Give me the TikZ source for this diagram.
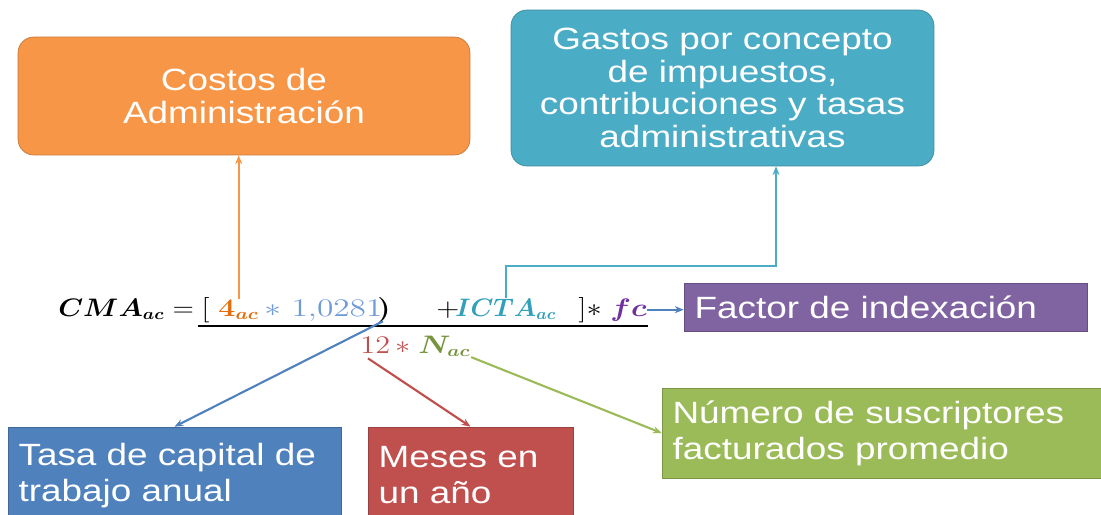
\documentclass[tikz,border=0pt]{standalone}
\usepackage{fontspec}
\usepackage{amsmath,bm}
\setmainfont[FakeStretch=1.2]{Liberation Sans}
\usetikzlibrary{arrows.meta,positioning,calc}

\definecolor{costo}{HTML}{F79646}
\definecolor{gasto}{HTML}{4BACC6}
\definecolor{factorc}{HTML}{8064A2}
\definecolor{numc}{HTML}{9BBB59}
\definecolor{tasac}{HTML}{4F81BD}
\definecolor{mesc}{HTML}{C0504D}
\definecolor{aorange}{HTML}{E46C0A}
\definecolor{ratec}{HTML}{6F9BD8}
\definecolor{ictac}{HTML}{31A0B8}
\definecolor{fcc}{HTML}{7030A0}
\definecolor{nacc}{HTML}{77933C}

\begin{document}
\begin{tikzpicture}[x=0.02cm,y=-0.02cm,
    box/.style = {draw=#1!80!black, fill=#1, text=white, inner sep=6pt,
                  font=\fontsize{17.5}{18.5}\selectfont},
    rbox/.style = {box=#1, rounded corners=9pt, align=center},
    lbox/.style = {box=#1, align=left, font=\fontsize{17.5}{20.5}\selectfont},
    term/.style = {anchor=base west, inner sep=0pt, xscale=1.2,
                   font=\fontsize{13.5}{15}\selectfont},
    link/.style = {draw=#1, line width=1.2pt, -{Stealth[length=5pt,width=4pt]}}
    ]
    \useasboundingbox (0,0) rectangle (1101,514);

    % boxes
    \node[rbox=costo, minimum width=9.04cm, minimum height=2.36cm] (costos) at (244,96) {Costos de\\Administración};
    \node[rbox=gasto, minimum width=8.46cm, minimum height=3.12cm] (gastos) at (722.5,88) {Gastos por concepto\\de impuestos,\\contribuciones y tasas\\administrativas};
    \node[lbox=factorc, minimum width=8.06cm, minimum height=0.96cm, text width=7.64cm] (factor) at (885.5,307) {Factor de indexación};
    \node[lbox=numc, minimum width=8.86cm, minimum height=1.8cm, text width=8.44cm] (numero) at (883.5,433) {Número de suscriptores\\facturados promedio};
    \node[lbox=tasac, minimum width=6.66cm, minimum height=1.94cm, text width=6.24cm] (tasa) at (174.5,475.5) {Tasa de capital de\\trabajo anual};
    \node[lbox=mesc, minimum width=4.1cm, minimum height=1.94cm, text width=3.68cm] (meses) at (470.5,475.5) {Meses en\\un año};

    % formula
    \node[term, xscale=0.925] (cma) at (58,316) {$\boldsymbol{CMA_{ac}} =$};
    \node[term] (lbr) at (201,316) {$[$};
    \node[term, text=aorange] (aterm) at (218,316) {$\boldsymbol{4_{ac}}$};
    \node[term, text=ratec, xscale=1.1] (rate) at (264,316) {$*\ 1{,}0281$};
    \node[term] (rpar) at (377,316) {$\boldsymbol{)}$};
    \node[term] (plus) at (436,316) {$+$};
    \node[term, text=ictac, xscale=0.85] (icta) at (455,316) {$\boldsymbol{ICTA_{ac}}$};
    \node[term] (rbr) at (578,316) {$]{*}$};
    \node[term, text=fcc] (fc) at (610,316) {$\boldsymbol{fc}$};
    \node[term, text=mesc] (twelve) at (360,353) {$12\,*$};
    \node[term, text=nacc] (nac) at (418,353) {$\boldsymbol{N_{ac}}$};
    \draw[line width=1pt] (198,326) -- (648,326);

    \coordinate (bend) at (776,266);

    % links
    \draw[link=costo] (aterm.north) -- (aterm.north |- costos.south);
    \draw[link=gasto] (icta.north) |- (bend) -- (bend |- gastos.south);
    \draw[link=tasac] (fc.east) -- (fc.east -| factor.west);
    \draw[link=tasac] (rate.south east) -- (tasa.north);
    \draw[link=mesc] (twelve.south west) ++(8,5) -- (meses.north);
    \draw[link=numc] (nac.south east) -- (numero.west);
\end{tikzpicture}
\end{document}
